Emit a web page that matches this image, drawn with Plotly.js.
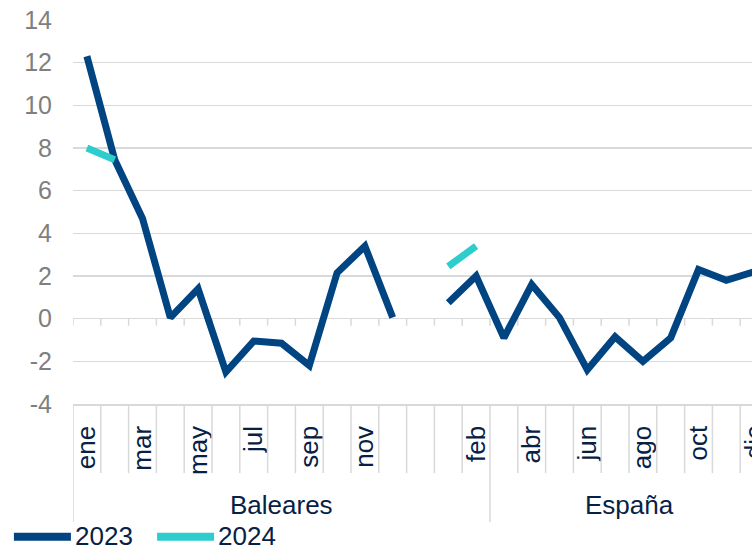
<!DOCTYPE html>
<html>
<head>
<meta charset="utf-8">
<script src="https://cdn.plot.ly/plotly-3.0.1.min.js"></script>
<style>
html,body{margin:0;padding:0;overflow:hidden;background:#fff;width:752px;height:547px;}
#chart{width:780px;height:547px;}
</style>
</head>
<body>
<div id="chart"></div>
<script>
// ---- data ----
var months = ['ene','feb','mar','abr','may','jun','jul','ago','sep','oct','nov','dic'];
var groups = ['Baleares', 'España'];
var baleares2023 = [12.3, 7.45, 4.7, 0.05, 1.4, -2.5, -1.05, -1.15, -2.2, 2.15, 3.4, 0.05];
var espana2023   = [0.75, 2.0, -0.9, 1.6, 0.05, -2.4, -0.85, -2.0, -0.9, 2.3, 1.8, 2.2];
var baleares2024 = [8.0, 7.45];
var espana2024   = [2.45, 3.4];
var seriesNames = ['2023', '2024'];
var yTicks = [-4, -2, 0, 2, 4, 6, 8, 10, 12, 14];
var yTickText = ['-4', '-2', '0', '2', '4', '6', '8', '10', '12', '14'];
var colors = ['#004481', '#2dcccd'];
var navy = '#072146';

// ---- category positions: Baleares 0..11, gap 12, España 13..24 ----
var nM = months.length;
var offB = 0, offE = nM + 1;
var allCats = months.concat(['']).concat(months);
var nCats = allCats.length;
function xs(off, n){ var a=[]; for(var i=0;i<n;i++) a.push(off+i); return a; }

var tickvals = [], ticktext = [];
for (var i = 0; i < nCats; i += 2) { tickvals.push(i); ticktext.push(allCats[i]); }

// group boundaries (as drawn in the original)
var groupBounds = [-0.5, 14.5, nCats - 0.5];

var lw = 7;
var traces = [
  {x: xs(offB, baleares2023.length), y: baleares2023, mode: 'lines', line: {color: colors[0], width: lw}, showlegend: false, hoverinfo: 'skip'},
  {x: xs(offE, espana2023.length), y: espana2023, mode: 'lines', line: {color: colors[0], width: lw}, showlegend: false, hoverinfo: 'skip'},
  {x: xs(offB, baleares2024.length), y: baleares2024, mode: 'lines', line: {color: colors[1], width: lw}, showlegend: false, hoverinfo: 'skip'},
  {x: xs(offE, espana2024.length), y: espana2024, mode: 'lines', line: {color: colors[1], width: lw}, showlegend: false, hoverinfo: 'skip'}
];

var gridColor = '#d9d9d9';
var fam = 'Liberation Sans, Arial, sans-serif';
var shapes = [];
var annotations = [];
// tick marks on zero line and category dividers below the plot
for (var k = 0; k <= nCats; k++) {
  var bx = k - 0.5;
  var isGroup = groupBounds.indexOf(bx) >= 0;
  shapes.push({type: 'line', xref: 'x', yref: 'y', x0: bx, x1: bx, y0: 0, y1: -0.33, line: {color: gridColor, width: 1.5}, layer: 'below'});
  shapes.push({type: 'line', xref: 'x', yref: 'paper', x0: bx, x1: bx, y0: 0, y1: isGroup ? -0.307 : -0.18, line: {color: gridColor, width: 1.5}});
}
for (var g = 0; g < groups.length; g++) {
  annotations.push({xref: 'x', yref: 'paper', x: (groupBounds[g] + groupBounds[g+1]) / 2, y: -0.263,
    text: groups[g], showarrow: false, xanchor: 'center', yanchor: 'middle',
    font: {family: fam, size: 26, color: navy}});
}
// legend (bottom)
var legX = [[-0.085, -0.003, 0.0], [0.121, 0.203, 0.206]];
for (var s = 0; s < seriesNames.length; s++) {
  shapes.push({type: 'line', xref: 'paper', yref: 'paper', x0: legX[s][0], x1: legX[s][1], y0: -0.346, y1: -0.346, line: {color: colors[s], width: 8}});
  annotations.push({xref: 'paper', yref: 'paper', x: legX[s][2], y: -0.343, text: seriesNames[s], showarrow: false,
    xanchor: 'left', yanchor: 'middle', font: {family: fam, size: 26, color: navy}});
}

var layout = {
  width: 780, height: 547,
  margin: {l: 73, r: 12, t: 20, b: 143, pad: 0},
  paper_bgcolor: '#ffffff', plot_bgcolor: '#ffffff',
  showlegend: false,
  font: {family: fam},
  xaxis: {
    type: 'linear', range: [-0.5, nCats - 0.5], tickmode: 'array', tickvals: tickvals, ticktext: ticktext,
    tickangle: -90, showgrid: false, zeroline: false, showline: true, linecolor: gridColor, linewidth: 1.5,
    ticks: '', ticklabelstandoff: 10, tickfont: {size: 26, color: navy, family: fam}
  },
  yaxis: {
    range: [-4, 14], tickmode: 'array', tickvals: yTicks, ticktext: yTickText,
    showgrid: true, gridcolor: gridColor, gridwidth: 1.5, zeroline: true, zerolinecolor: gridColor, zerolinewidth: 1.5,
    showline: false, ticks: '', ticklabelstandoff: 20,
    tickfont: {size: 25, color: '#7f7f7f', family: fam}
  },
  shapes: shapes,
  annotations: annotations
};

Plotly.newPlot('chart', traces, layout, {displayModeBar: false, staticPlot: true});
</script>
</body>
</html>
